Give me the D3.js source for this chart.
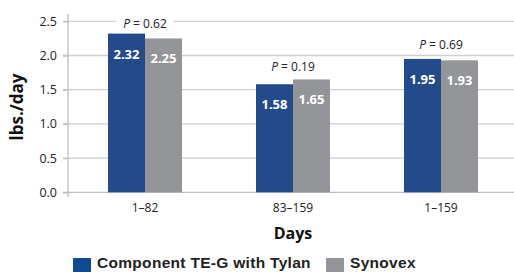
<!DOCTYPE html>
<html>
<head>
<meta charset="utf-8">
<script src="https://cdn.jsdelivr.net/npm/d3@7"></script>
<style>
  body { margin: 0; background: #fff; }
  svg { display: block; }
</style>
</head>
<body>
<svg id="chart" width="514" height="272"></svg>
<script>
// data
var periods = ["1\u201382", "83\u2013159", "1\u2013159"];
var seriesNames = ["Component TE-G with Tylan", "Synovex"];
var tylanValues = [2.32, 1.58, 1.95];
var synovexValues = [2.25, 1.65, 1.93];
var pValues = ["0.62", "0.19", "0.69"];
var yTicks = [0, 0.5, 1.0, 1.5, 2.0, 2.5];

var colors = ["#234b8b", "#939598"];
var legendColors = ["#0f4a94", "#939598"];

var svg = d3.select("#chart");
var axisFont = "'Open Sans', sans-serif";

var xScale = d3.scaleBand()
    .domain(periods)
    .range([71, 515])
    .paddingInner(0)
    .paddingOuter(0);

var inner = d3.scaleBand()
    .domain([0, 1])
    .range([0, 74]);

var yScale = d3.scaleLinear()
    .domain([0, 2.5])
    .range([192.3, 21.3]);

// gridlines
svg.append("g").selectAll("line")
    .data(yTicks.filter(d => d > 0))
    .enter()
    .append("line")
    .attr("x1", 63)
    .attr("x2", 514)
    .attr("y1", d => yScale(d))
    .attr("y2", d => yScale(d))
    .attr("stroke", "#cfcfcf")
    .attr("stroke-width", 1.3);

// y axis
var yAxis = d3.axisLeft(yScale)
    .tickValues(yTicks)
    .tickFormat(d3.format(".1f"))
    .tickSize(5)
    .tickPadding(6);

var yG = svg.append("g")
    .attr("transform", "translate(68,0)")
    .call(yAxis);
yG.select(".domain").remove();
yG.selectAll(".tick line").attr("stroke", "#bdbdbd").attr("stroke-width", 1.3);
yG.selectAll(".tick text")
    .attr("fill", "#222")
    .style("font-family", axisFont)
    .style("font-size", "12.5px");

svg.append("line")
    .attr("x1", 68).attr("x2", 68)
    .attr("y1", 14).attr("y2", 197)
    .attr("stroke", "#bdbdbd")
    .attr("stroke-width", 1.3);

// x axis
svg.append("line")
    .attr("x1", 63).attr("x2", 514)
    .attr("y1", yScale(0)).attr("y2", yScale(0))
    .attr("stroke", "#bdbdbd")
    .attr("stroke-width", 1.3);

svg.append("g").selectAll("text")
    .data(periods)
    .enter()
    .append("text")
    .attr("x", d => xScale(d) + xScale.bandwidth() / 2)
    .attr("y", 212)
    .attr("text-anchor", "middle")
    .attr("fill", "#222")
    .style("font-family", axisFont)
    .style("font-size", "12px")
    .text(d => d);

// bars
var rows = periods.map(function(p, i) {
    return {period: p, values: [tylanValues[i], synovexValues[i]], p: pValues[i]};
});

var groups = svg.append("g").selectAll("g")
    .data(rows)
    .enter()
    .append("g")
    .attr("transform", d => "translate(" + (xScale(d.period) + xScale.bandwidth() / 2 - 37) + ",0)");

groups.selectAll("rect")
    .data(d => d.values)
    .enter()
    .append("rect")
    .attr("x", (d, i) => inner(i))
    .attr("width", inner.bandwidth())
    .attr("y", d => yScale(d))
    .attr("height", d => yScale(0) - yScale(d))
    .attr("fill", (d, i) => colors[i]);

groups.selectAll("text.val")
    .data(d => d.values)
    .enter()
    .append("text")
    .attr("class", "val")
    .attr("x", (d, i) => inner(i) + inner.bandwidth() / 2)
    .attr("y", d => yScale(d) + 25)
    .attr("text-anchor", "middle")
    .attr("fill", "#fff")
    .style("font-family", axisFont)
    .style("font-weight", "bold")
    .style("font-size", "13px")
    .text(d => d.toFixed(2));

// P labels with white backing
var pOffset = [6, 8, 10];
groups.each(function(d, i) {
    var g = d3.select(this);
    var top = yScale(d3.max(d.values));
    var ty = top - pOffset[i];
    g.append("rect")
        .attr("x", 37 - 29)
        .attr("y", ty - 12)
        .attr("width", 58)
        .attr("height", 16)
        .attr("fill", "#fff");
    var t = g.append("text")
        .attr("x", 37)
        .attr("y", ty)
        .attr("text-anchor", "middle")
        .attr("fill", "#222")
        .style("font-family", axisFont)
        .style("font-size", "12px");
    t.append("tspan").style("font-style", "italic").text("P");
    t.append("tspan").text(" = " + d.p);
});

// axis titles
svg.append("text")
    .attr("transform", "translate(23,107) rotate(-90)")
    .attr("text-anchor", "middle")
    .attr("fill", "#111")
    .style("font-family", axisFont)
    .style("font-weight", "bold")
    .style("font-size", "17px")
    .text("lbs./day");

svg.append("text")
    .attr("x", 293)
    .attr("y", 239)
    .attr("text-anchor", "middle")
    .attr("fill", "#111")
    .style("font-family", axisFont)
    .style("font-weight", "bold")
    .style("font-size", "16px")
    .text("Days");

// legend
var legendX = [73, 326];
var legend = svg.append("g").selectAll("g")
    .data(seriesNames)
    .enter()
    .append("g")
    .attr("transform", (d, i) => "translate(" + legendX[i] + ",258)");

legend.append("rect")
    .attr("width", 18)
    .attr("height", 16)
    .attr("fill", (d, i) => legendColors[i]);

legend.append("text")
    .attr("x", 24)
    .attr("y", 10)
    .attr("fill", "#222")
    .style("font-family", "'Liberation Sans', Arial, sans-serif")
    .style("font-weight", "bold")
    .style("font-size", "15.5px")
    .style("letter-spacing", "0.3px")
    .text(d => d);
</script>
</body>
</html>
